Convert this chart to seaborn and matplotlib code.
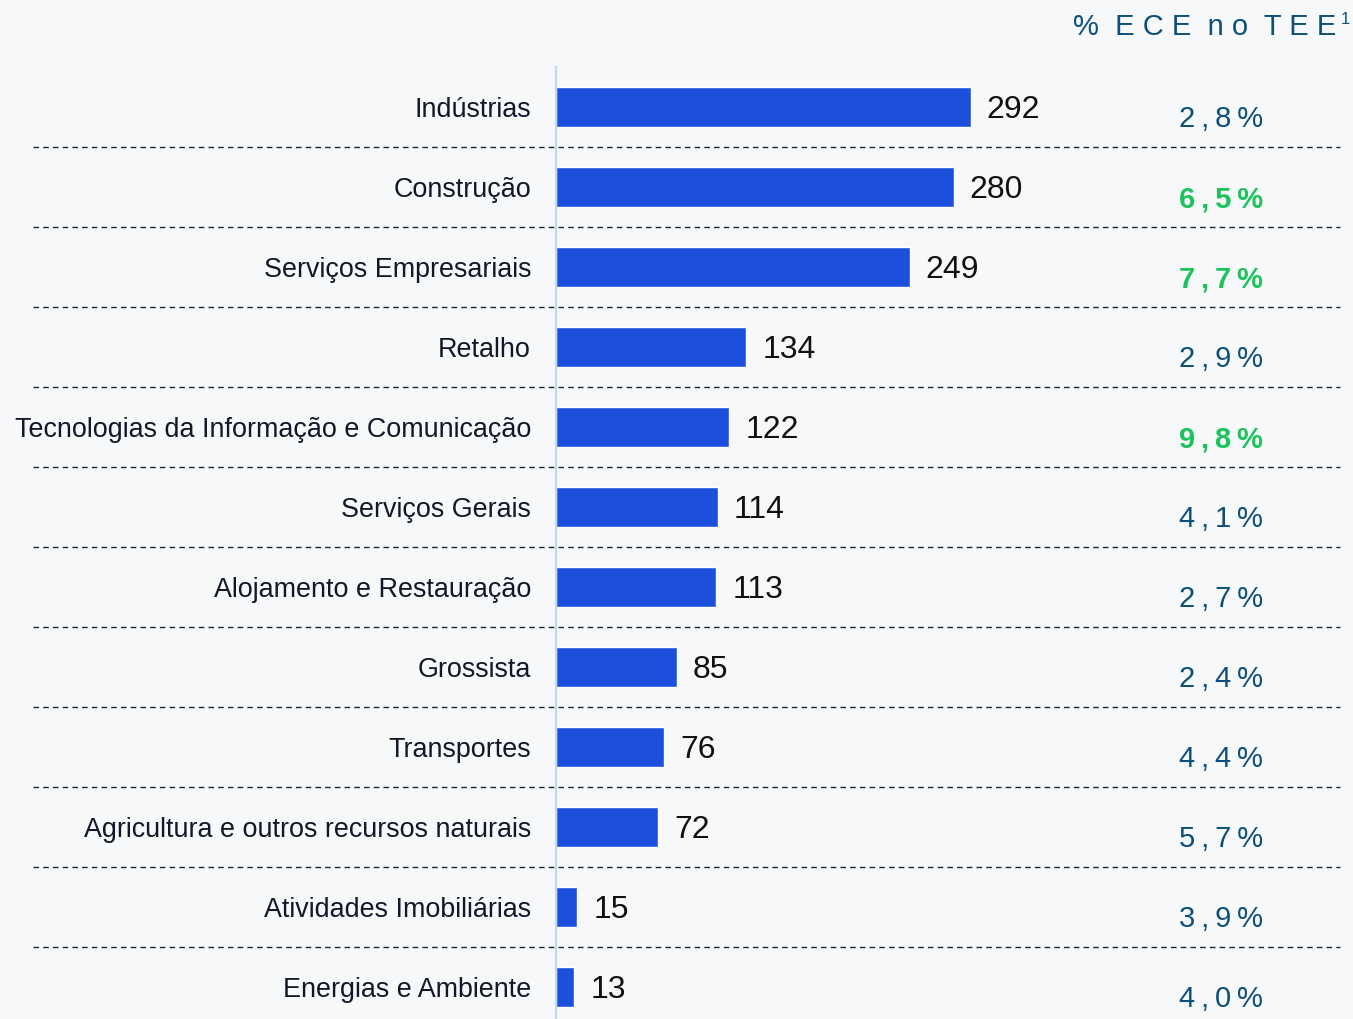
import pandas as pd
import numpy as np
import seaborn as sns
import matplotlib.pyplot as plt
from matplotlib import transforms

sectors = ["Indústrias", "Construção", "Serviços Empresariais", "Retalho",
           "Tecnologias da Informação e Comunicação", "Serviços Gerais",
           "Alojamento e Restauração", "Grossista", "Transportes",
           "Agricultura e outros recursos naturais", "Atividades Imobiliárias",
           "Energias e Ambiente"]
counts = [292, 280, 249, 134, 122, 114, 113, 85, 76, 72, 15, 13]
share_tee = [2.8, 6.5, 7.7, 2.9, 9.8, 4.1, 2.7, 2.4, 4.4, 5.7, 3.9, 4.0]
highlight = [False, True, True, False, True, False, False, False, False, False, False, False]

bg = "#f6f8fa"
bar_color = "#1c4fdc"
teal = "#0d4f7a"
green = "#1cc35a"

sns.set_style("white")
plt.rcParams["font.family"] = ["Liberation Sans", "DejaVu Sans"]

df = pd.DataFrame({"sector": sectors, "count": counts})

fig = plt.figure(figsize=(13.53, 10.19), dpi=100, facecolor=bg)
ax = fig.add_axes([556 / 1353, 0, 797 / 1353, (1019 - 67) / 1019])
ax.set_facecolor(bg)

sns.barplot(data=df, y="sector", x="count", orient="h", color=bar_color,
            width=0.5, saturation=1, ax=ax)

ax.set_xlim(0, 797 / 1.42)
ax.set_ylim(11.4, -0.5)
ax.set_xlabel("")
ax.set_ylabel("")
ax.set_xticks([])
ax.tick_params(axis="y", length=0, pad=18, labelsize=19.4, labelcolor="#111827")

for s in ["top", "right", "bottom"]:
    ax.spines[s].set_visible(False)
ax.spines["left"].set_color("#bfd8fb")
ax.spines["left"].set_linewidth(1.6)

# value labels next to the bars
for i, v in enumerate(counts):
    ax.annotate(str(v), (v, i), xytext=(11.5, -2.5), textcoords="offset points",
                ha="left", va="center", fontsize=23, color="#111111")

# dashed separators reaching under the category labels
for i in range(len(sectors) - 1):
    ax.axhline(i + 0.5, xmin=(33 - 556) / 797, xmax=(1340 - 556) / 797,
               color="#1f2433", lw=1.0, ls=(0, (4, 3)), clip_on=False, zorder=0)

# % ECE no TEE column
trans = transforms.blended_transform_factory(ax.transAxes, ax.transData)
for i, (v, h) in enumerate(zip(share_tee, highlight)):
    txt = "\u2009".join(f"{v:.1f}".replace(".", ",") + "%")
    ax.text((1263 - 556) / 797, i + 0.15, txt, transform=trans, ha="right",
            va="center", fontsize=21, color=green if h else teal,
            fontweight="bold" if h else "normal")

fig.text(1336 / 1353, 1 - 27 / 1019, "%  E C E  n o  T E E", ha="right",
         va="center", fontsize=21, color=teal)
fig.text(1341 / 1353, 1 - 20 / 1019, "1", ha="left", va="center",
         fontsize=12, color=teal)

fig.savefig("out.png", dpi=100, facecolor=bg)
